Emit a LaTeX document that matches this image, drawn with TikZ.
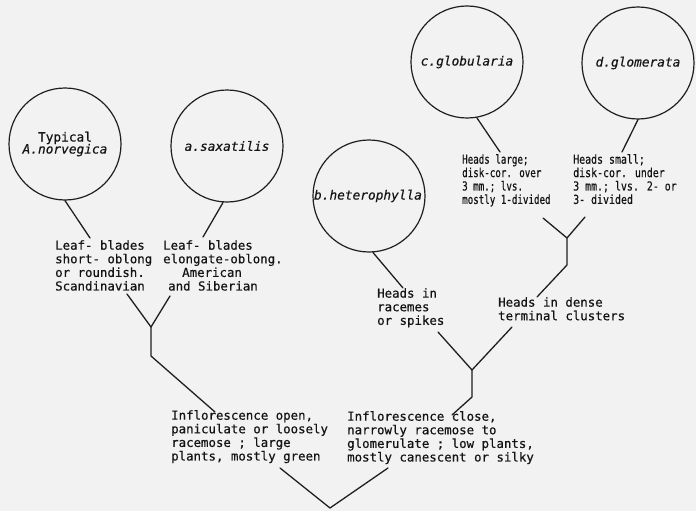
\documentclass[tikz,border=0pt]{standalone}
\usepackage{fontspec}
\setmainfont{DejaVu Sans Mono}[FakeBold=0.5]
\newfontfamily\slantfont{DejaVu Sans Mono Oblique}[FakeBold=0.3]
\newfontfamily\narrowfont{DejaVu Sans Mono}[FakeStretch=0.74, FakeBold=0.5]
\newfontfamily\halfnarrowfont{DejaVu Sans Mono}[FakeStretch=0.8, FakeBold=0.5]
\begin{document}
\begin{tikzpicture}[x=1pt,y=-1pt,
  ink/.style={draw=black!88, line width=1.3pt},
  taxon/.style={circle, draw=black!88, line width=1.2pt, minimum size=112pt, inner sep=0pt,
    align=center, font=\fontsize{12.8}{13}\selectfont\slantfont, text=black!92},
  note/.style={anchor=north west, inner sep=0pt, align=left,
    font=\fontsize{12.4}{13.6}\selectfont, text=black!92},
  narrownote/.style={note, font=\fontsize{12.4}{13.4}\selectfont\narrowfont},
  branch/.style={ink, line cap=round, line join=round}]
\useasboundingbox[fill=black!5] (0,0) rectangle (696,511);

% species circles
\node[taxon] (A) at (65,144) {{\normalfont Typical}\\[-1pt]A.norvegica};
\node[taxon] (sax) at (227,146) {a.saxatilis};
\node[taxon] (het) at (369,196) {\hspace*{-2pt}b.heterophylla};
\node[taxon] (glob) at (467,62) {c.globularia};
\node[taxon] (glom) at (638,63) {d.glomerata};

% key characters
\node[note] (lshort) at (55,240) {Leaf- blades\\short- oblong\\or roundish.\\Scandinavian};
\node[note] (llong) at (163,240) {Leaf- blades\\elongate-oblong.\\\hspace*{19pt}American\\\hspace*{5pt}and Siberian};
\node[note] (hrac) at (377,288) {Heads in\\racemes\\or spikes};
\node[note] (hdense) at (498,297) {Heads in dense\\terminal clusters};
\node[narrownote] (hlarge) at (462,154) {Heads large;\\disk-cor. over\\3 mm.; lvs.\\mostly 1-divided};
\node[narrownote, font=\fontsize{12.4}{13.4}\selectfont\halfnarrowfont] (hsmall) at (573,154) {Heads small;\\disk-cor. under\\3 mm.; lvs. 2- or\\3- divided};
\node[note] (iopen) at (171,410) {Inflorescence open,\\paniculate or loosely\\racemose ; large\\plants, mostly green};
\node[note] (iclose) at (347,411) {Inflorescence close,\\narrowly racemose to\\glomerulate ; low plants,\\mostly canescent or silky};

% branch points
\coordinate (root) at (330,508);
\coordinate (rl) at (280,468);
\coordinate (rr) at (388,468);
\coordinate (oTop) at (215,412);
\coordinate (oKnee) at (151,356);
\coordinate (oFork) at (151,327);
\coordinate (oL) at (127,294);
\coordinate (oR) at (170,296);
\coordinate (sTop) at (90,238);
\coordinate (xTop) at (203,237);
\coordinate (cTop) at (452,415);
\coordinate (cKnee) at (472,397);
\coordinate (cFork) at (472,370);
\coordinate (cL) at (438,332);
\coordinate (cR) at (512,327);
\coordinate (racTop) at (403,288);
\coordinate (dBot) at (537,297);
\coordinate (dKnee) at (567,265);
\coordinate (dFork) at (567,238);
\coordinate (dL) at (543,218);
\coordinate (dR) at (585,217);
\coordinate (lgTop) at (500,152);
\coordinate (smTop) at (622,152);

% the tree
\draw[branch] (rl) -- (root) -- (rr);
\draw[branch] (oTop) -- (oKnee) -- (oFork);
\draw[branch] (oL) -- (oFork) -- (oR);
\draw[branch] (A.-90) -- (sTop);
\draw[branch] (sax.-94) -- (xTop);
\draw[branch] (cTop) -- (cKnee) -- (cFork);
\draw[branch] (cL) -- (cFork) -- (cR);
\draw[branch] (het.-86) -- (racTop);
\draw[branch] (dBot) -- (dKnee) -- (dFork);
\draw[branch] (dL) -- (dFork) -- (dR);
\draw[branch] (glob.-80) -- (lgTop);
\draw[branch] (glom.-90) -- (smTop);
\end{tikzpicture}
\end{document}
